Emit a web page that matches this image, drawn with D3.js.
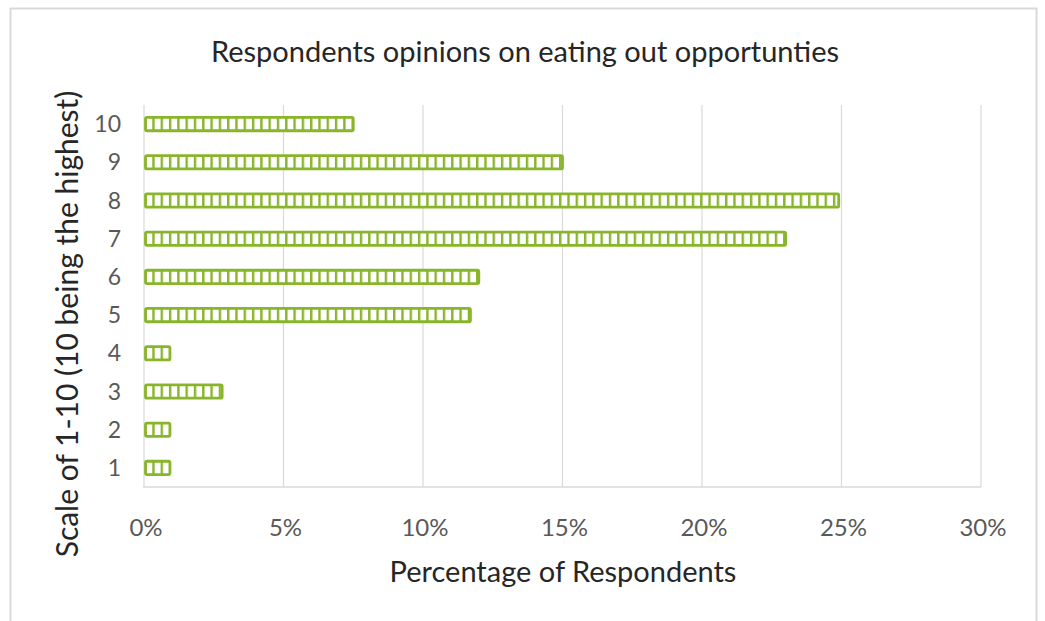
<!DOCTYPE html>
<html><head><meta charset="utf-8">
<script src="https://cdn.jsdelivr.net/npm/d3@7"></script>
<style>body{margin:0;background:#fff}svg{display:block}</style>
</head><body>
<svg id="c" width="1045" height="621"></svg>
<script>
const categories = ["1","2","3","4","5","6","7","8","9","10"];
const values = [0.93, 0.93, 2.8, 0.93, 11.7, 12.0, 23.0, 24.9, 15.0, 7.5];
const xTicks = [0,5,10,15,20,25,30];
const title = "Respondents opinions on eating out opportunties";
const xLabel = "Percentage of Respondents";
const yLabel = "Scale of 1-10 (10 being the highest)";

const svg = d3.select("#c");
const font = "Lato, 'Open Sans', sans-serif";
const green = "#89b52a";

// frame
svg.append("rect").attr("x",10.5).attr("y",8.5).attr("width",1026).attr("height",640)
  .attr("fill","#fff").attr("stroke","#d9d9d9").attr("stroke-width",2);

const m = {l:144, r:981, t:105, b:487};
const x = d3.scaleLinear().domain([0,30]).range([m.l,m.r]);
const y = d3.scaleBand().domain(categories.slice().reverse()).range([m.t,m.b]).paddingInner(0.6).paddingOuter(0.3);

const defs = svg.append("defs");
const pat = defs.append("pattern").attr("id","stripes").attr("patternUnits","userSpaceOnUse")
  .attr("width",8.3).attr("height",20).attr("x",m.l);
pat.append("rect").attr("width",8.3).attr("height",20).attr("fill","#fff");
pat.append("rect").attr("x",0).attr("width",2.4).attr("height",20).attr("fill",green);

// gridlines
svg.append("g").selectAll("line").data(xTicks).join("line")
  .attr("x1",d=>x(d)).attr("x2",d=>x(d)).attr("y1",m.t).attr("y2",m.b)
  .attr("stroke","#d9d9d9").attr("stroke-width",1.2);
// bottom axis line
svg.append("line").attr("x1",m.l-1).attr("x2",m.r).attr("y1",m.b).attr("y2",m.b)
  .attr("stroke","#d9d9d9").attr("stroke-width",1.5);

// bars
svg.append("g").selectAll("rect").data(values).join("rect")
  .attr("x",x(0)+1.5).attr("y",(d,i)=>y(categories[i])+1)
  .attr("width",d=>x(d)-x(0)-1.5).attr("height",y.bandwidth()-2)
  .attr("rx",1.5)
  .attr("fill","url(#stripes)").attr("stroke",green).attr("stroke-width",2.8);

// x tick labels
svg.append("g").selectAll("text").data(xTicks).join("text")
  .attr("x",d=>x(d)+2).attr("y",536).attr("text-anchor","middle")
  .attr("font-family",font).attr("font-size",24).attr("fill","#595959")
  .text(d=>d+"%");
// y tick labels
svg.append("g").selectAll("text").data(categories).join("text")
  .attr("x",121).attr("y",d=>y(d)+y.bandwidth()/2+8).attr("text-anchor","end")
  .attr("font-family",font).attr("font-size",23).attr("fill","#595959")
  .text(d=>d);

// titles
svg.append("text").attr("x",525).attr("y",62).attr("text-anchor","middle")
  .attr("font-family",font).attr("font-size",29).attr("fill","#262626").text(title);
svg.append("text").attr("x",563).attr("y",582).attr("text-anchor","middle")
  .attr("font-family",font).attr("font-size",29).attr("fill","#262626").text(xLabel);
svg.append("text").attr("transform","translate(78,324) rotate(-90)").attr("text-anchor","middle")
  .attr("font-family",font).attr("font-size",30).attr("fill","#262626").text(yLabel);
</script>
</body></html>
